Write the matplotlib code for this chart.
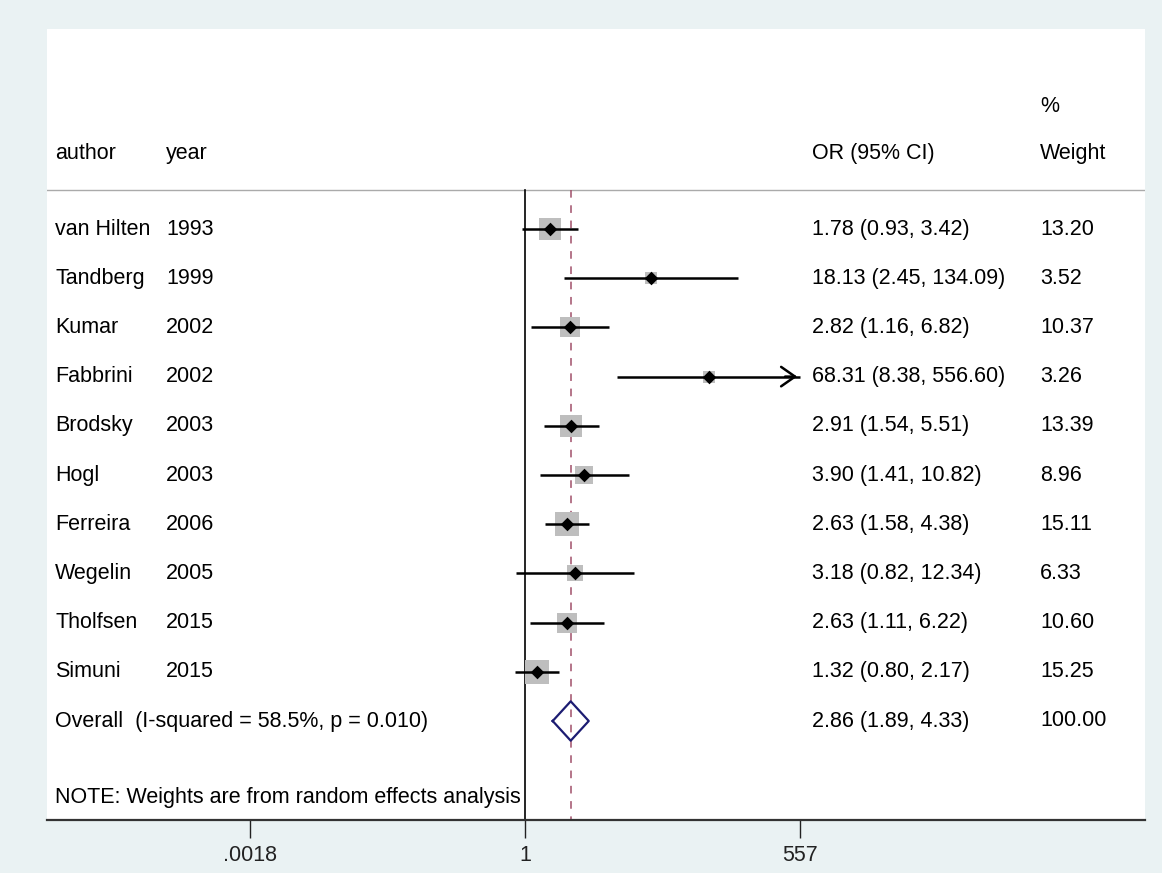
import numpy as np
import matplotlib
matplotlib.use("Agg")
import matplotlib.pyplot as plt
import matplotlib.transforms as mtransforms

authors = ["van Hilten", "Tandberg", "Kumar", "Fabbrini", "Brodsky", "Hogl",
           "Ferreira", "Wegelin", "Tholfsen", "Simuni"]
years = ["1993", "1999", "2002", "2002", "2003", "2003", "2006", "2005", "2015", "2015"]
or_vals = [1.78, 18.13, 2.82, 68.31, 2.91, 3.90, 2.63, 3.18, 2.63, 1.32]
ci_low = [0.93, 2.45, 1.16, 8.38, 1.54, 1.41, 1.58, 0.82, 1.11, 0.80]
ci_high = [3.42, 134.09, 6.82, 556.60, 5.51, 10.82, 4.38, 12.34, 6.22, 2.17]
weights = [13.20, 3.52, 10.37, 3.26, 13.39, 8.96, 15.11, 6.33, 10.60, 15.25]
overall = [2.86, 1.89, 4.33]
overall_label = "Overall  (I-squared = 58.5%, p = 0.010)"
note = "NOTE: Weights are from random effects analysis"
xticks = [0.0018, 1, 557]
xtick_labels = [".0018", "1", "557"]

plt.rcParams['font.family'] = ['Liberation Sans', 'DejaVu Sans']

W, H = 1162, 873
fig = plt.figure(figsize=(W / 100, H / 100), dpi=100)
fig.patch.set_facecolor('#EAF2F3')

# white plot region in pixels
x0, x1 = 47, 1145
y0, y1 = 29, 820
ax = fig.add_axes([x0 / W, 1 - y1 / H, (x1 - x0) / W, (y1 - y0) / H])
ax.set_facecolor('white')

# x scale: 1 at pixel 525, 557 at pixel 800
px_one, px_max = 525, 800
lnmax = np.log(557)
per_px = lnmax / (px_max - px_one)
xlo = np.exp((x0 - px_one) * per_px)
xhi = np.exp((x1 - px_one) * per_px)
ax.set_xscale('log')
ax.set_xlim(xlo, xhi)

# y scale: rows, row 0 at pixel 229, spacing 49.2
row_px0, row_sp = 229, 49.2
ylo = (y0 - row_px0) / row_sp
yhi = (y1 - row_px0) / row_sp
ax.set_ylim(yhi, ylo)

for s in ['top', 'left', 'right']:
    ax.spines[s].set_visible(False)
ax.spines['bottom'].set_linewidth(1.6)
ax.spines['bottom'].set_color('#333333')
ax.set_yticks([])
ax.set_xticks(xticks)
ax.set_xticklabels(xtick_labels, fontsize=15.5)
ax.minorticks_off()
ax.tick_params(axis='x', length=13, width=1.0, pad=5, colors='#222222')

trans = mtransforms.blended_transform_factory(ax.transAxes, ax.transData)
def fx(px):
    return (px - x0) / (x1 - x0)

sep_y = (190 - row_px0) / row_sp
ax.plot([0, 1], [sep_y, sep_y], transform=trans, color='#AAAAAA', lw=1.0)

# reference lines
ax.plot([1, 1], [sep_y, yhi], color='black', lw=1.2)
ax.plot([overall[0], overall[0]], [sep_y, yhi], color='#A0506A', lw=1.1,
        linestyle=(0, (5, 5)))

fs = 15.5
hdr_y = (153 - row_px0) / row_sp
pct_y = (106 - row_px0) / row_sp
ax.text(fx(55), hdr_y, "author", transform=trans, fontsize=fs, va='center')
ax.text(fx(166), hdr_y, "year", transform=trans, fontsize=fs, va='center')
ax.text(fx(812), hdr_y, "OR (95% CI)", transform=trans, fontsize=fs, va='center')
ax.text(fx(1040), hdr_y, "Weight", transform=trans, fontsize=fs, va='center')
ax.text(fx(1040), pct_y, "%", transform=trans, fontsize=fs, va='center')

rows = np.arange(len(authors))
for i in rows:
    lo, hi = ci_low[i], ci_high[i]
    arrow = hi >= 556
    hi_draw = min(hi, 557)
    ax.scatter([or_vals[i]], [i], marker='s', s=(6.1 * np.sqrt(weights[i]) * 0.72) ** 2,
               color='#BEBEBE', zorder=2, linewidths=0)
    ax.plot([lo, hi_draw], [i, i], color='black', lw=1.8, zorder=3, solid_capstyle='butt')
    if arrow:
        ax.annotate("", xy=(hi_draw, i), xytext=(hi_draw / 1.5, i),
                    arrowprops=dict(arrowstyle='->,head_length=1.0,head_width=0.7',
                                    color='black', lw=1.8), zorder=3)
    ax.scatter([or_vals[i]], [i], marker='D', s=48, color='black', zorder=4, linewidths=0)
    ax.text(fx(55), i, authors[i], transform=trans, fontsize=fs, va='center')
    ax.text(fx(166), i, years[i], transform=trans, fontsize=fs, va='center')
    ax.text(fx(812), i, f"{or_vals[i]:.2f} ({ci_low[i]:.2f}, {ci_high[i]:.2f})",
            transform=trans, fontsize=fs, va='center')
    ax.text(fx(1040), i, f"{weights[i]:.2f}", transform=trans, fontsize=fs, va='center')

oy = len(authors)
dx = [overall[1], overall[0], overall[2], overall[0], overall[1]]
dy = [oy, oy - 0.4, oy, oy + 0.4, oy]
ax.plot(dx, dy, color='#1C1C72', lw=1.6, zorder=4)
ax.text(fx(55), oy, overall_label, transform=trans, fontsize=fs, va='center')
ax.text(fx(812), oy, f"{overall[0]:.2f} ({overall[1]:.2f}, {overall[2]:.2f})",
        transform=trans, fontsize=fs, va='center')
ax.text(fx(1040), oy, "100.00", transform=trans, fontsize=fs, va='center')

note_y = (797 - row_px0) / row_sp
ax.text(fx(55), note_y, note, transform=trans, fontsize=fs, va='center')

fig.savefig("out.png", dpi=100, facecolor=fig.get_facecolor())
